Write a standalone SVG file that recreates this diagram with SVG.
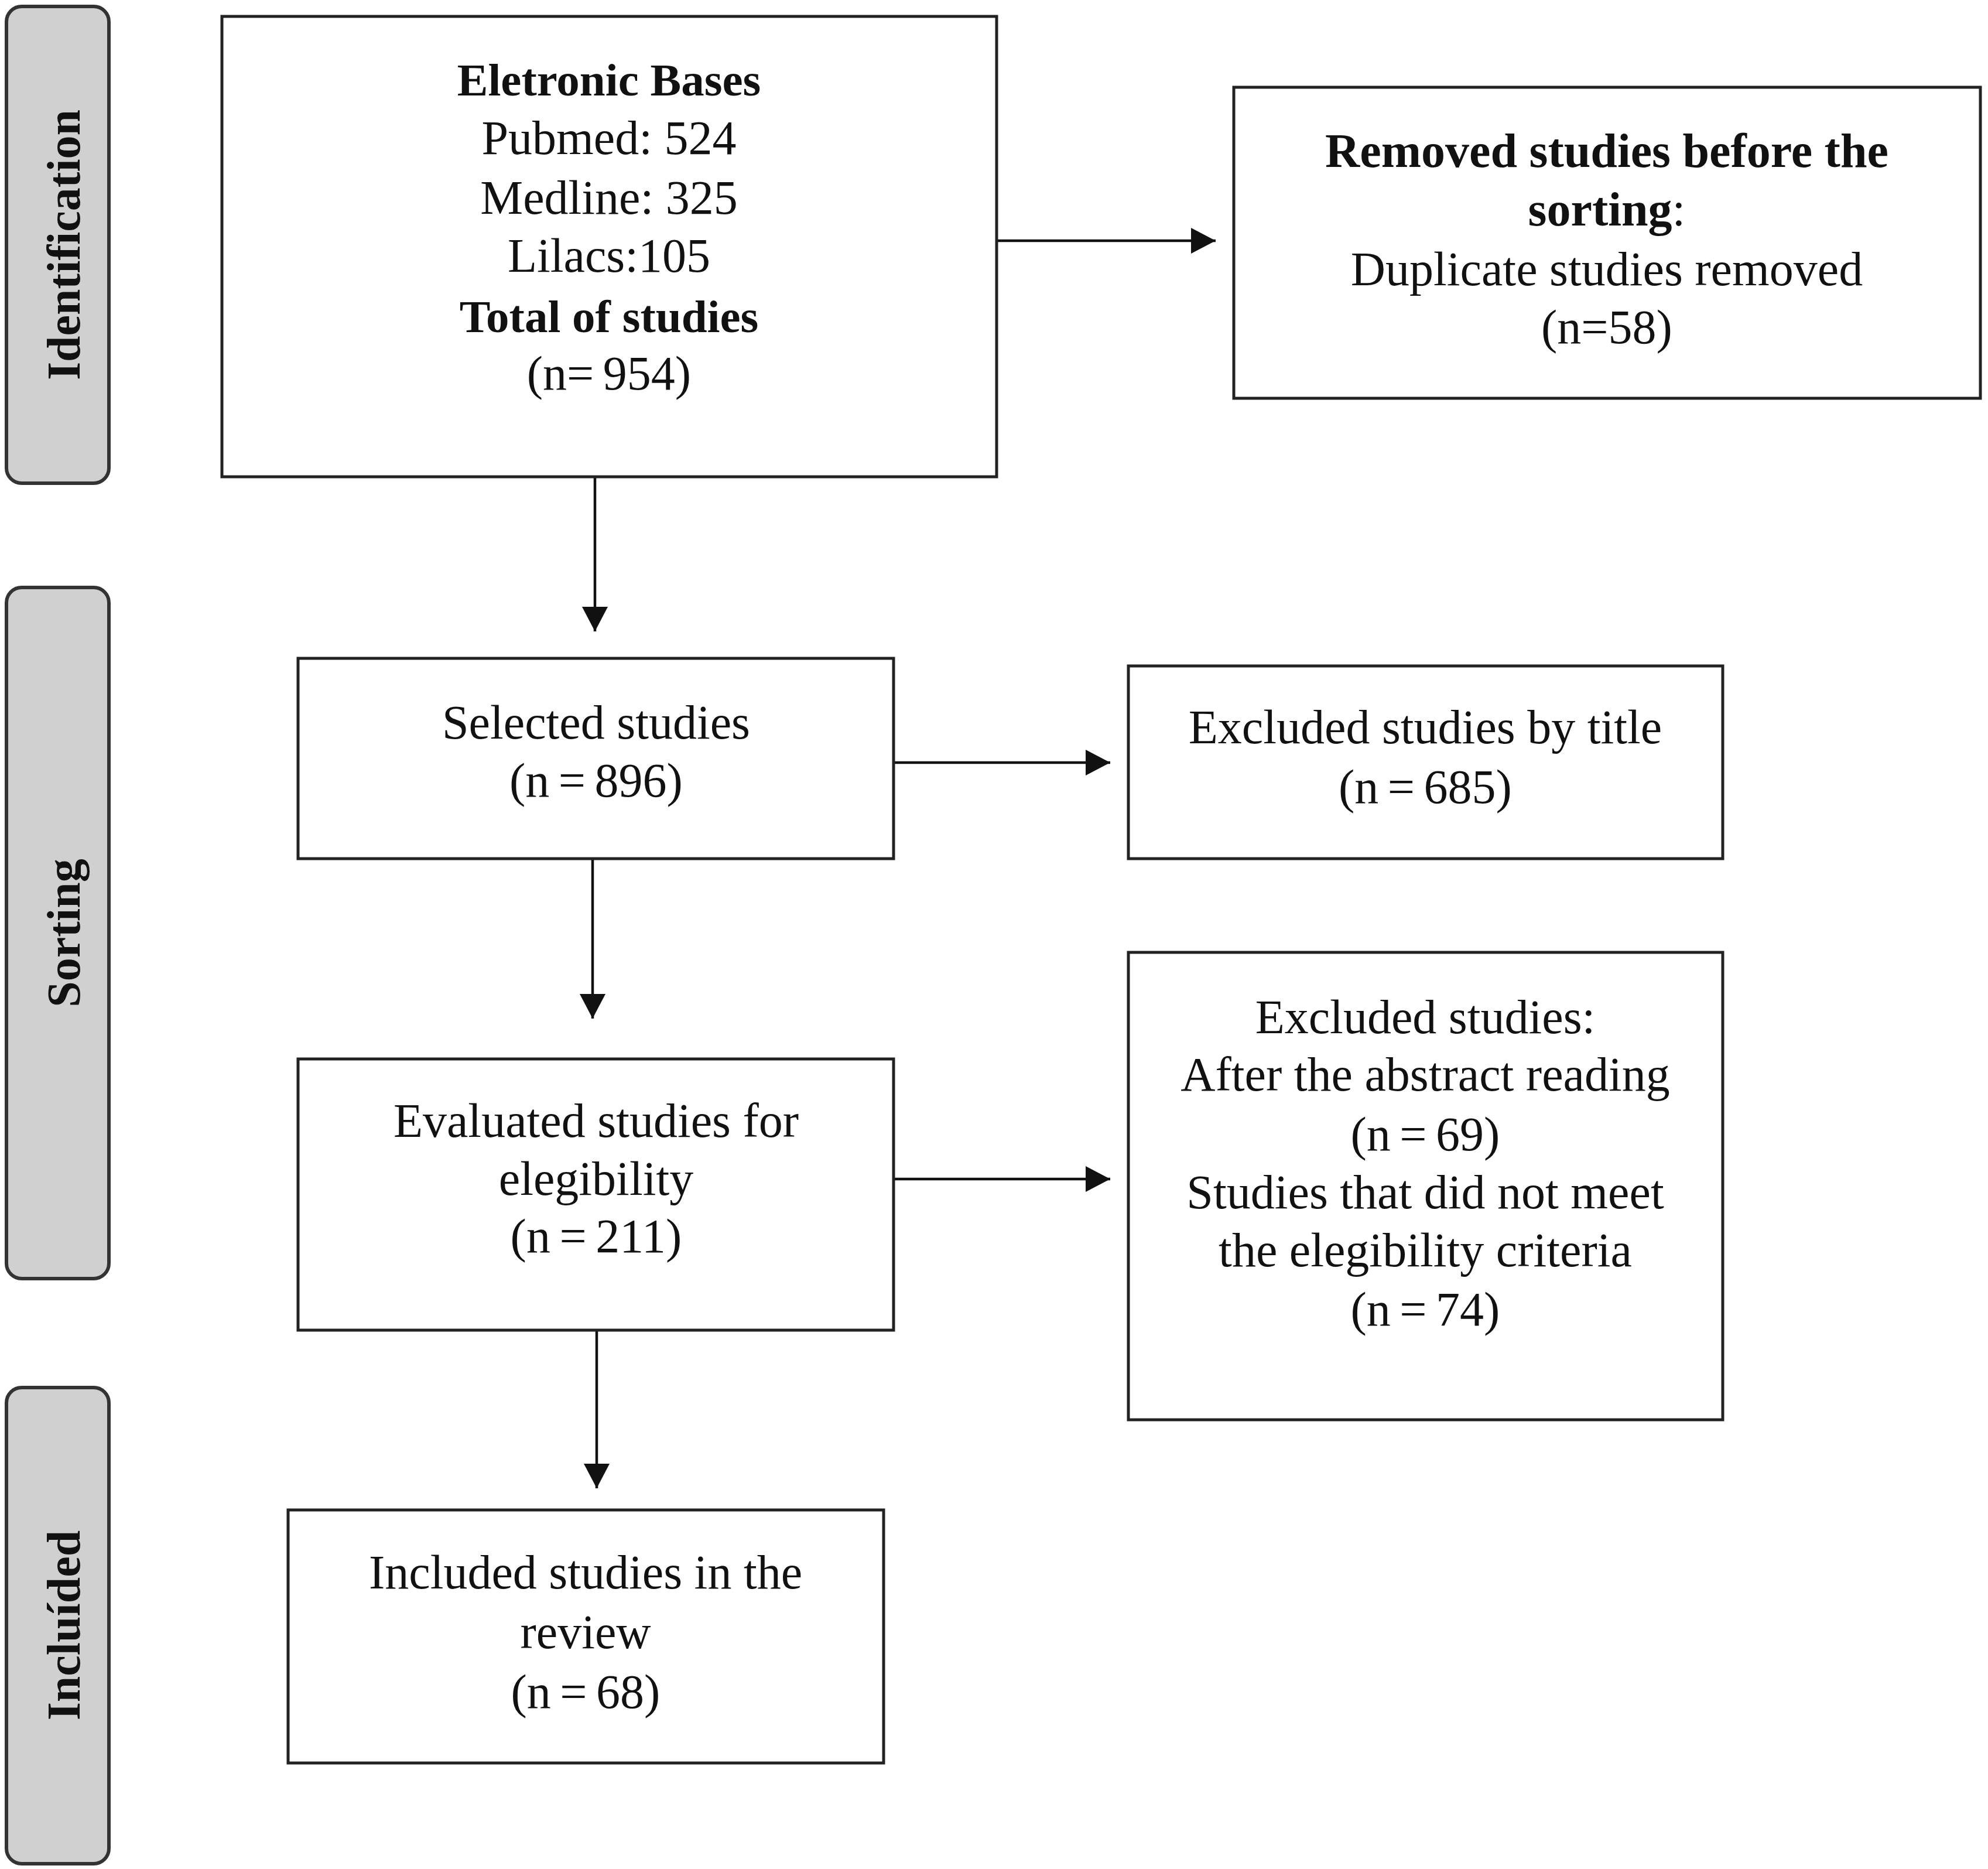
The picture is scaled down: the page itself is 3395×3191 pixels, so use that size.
<svg xmlns="http://www.w3.org/2000/svg" width="3395" height="3191" viewBox="0 0 3395 3191">
<style>
.tab{fill:#d0d0d0;stroke:#333;stroke-width:6}
.box{fill:#fff;stroke:#222;stroke-width:5}
.t{font-family:"Liberation Serif","Times New Roman",serif;font-size:82px;fill:#111;text-anchor:middle}
.b{font-weight:bold}
.hb{font-size:79px}
.n{word-spacing:-5px}
.tl{font-family:"Liberation Serif","Times New Roman",serif;font-size:80px;font-weight:bold;fill:#111;text-anchor:middle}
.c{stroke:#111;stroke-width:4.5;fill:none;marker-end:url(#ah)}
</style>
<defs>
<marker id="ah" markerUnits="userSpaceOnUse" markerWidth="44" markerHeight="46" refX="42" refY="22" orient="auto">
<path d="M0,0 L42,22 L0,44 Z" fill="#111"/>
</marker>
</defs>
<rect width="3395" height="3191" fill="#fff"/>
<g id="tab-identification">
<rect class="tab" x="11" y="11" width="175" height="814" rx="26"/>
<text class="tl" transform="translate(136,418) rotate(-90)">Identification</text>
</g>
<g id="tab-sorting">
<rect class="tab" x="11" y="1003" width="175" height="1180" rx="26"/>
<text class="tl" transform="translate(136,1593) rotate(-90)">Sorting</text>
</g>
<g id="tab-included">
<rect class="tab" x="11" y="2369" width="175" height="813" rx="26"/>
<text class="tl" transform="translate(136,2775) rotate(-90)">Incluíded</text>
</g>
<g id="connectors">
<line class="c" x1="1704" y1="411" x2="2076" y2="411"/>
<line class="c" x1="1016" y1="816" x2="1016" y2="1078"/>
<line class="c" x1="1528" y1="1302" x2="1896" y2="1302"/>
<line class="c" x1="1012" y1="1468" x2="1012" y2="1739"/>
<line class="c" x1="1528" y1="2013" x2="1896" y2="2013"/>
<line class="c" x1="1019" y1="2273" x2="1019" y2="2541"/>
</g>
<g id="node-electronic-bases">
<rect class="box" x="379" y="28" width="1323" height="786"/>
<text class="t b hb" x="1040" y="163">Eletronic Bases</text>
<text class="t" x="1040" y="263">Pubmed: 524</text>
<text class="t" x="1040" y="365">Medline: 325</text>
<text class="t" x="1040" y="464">Lilacs:105</text>
<text class="t b hb" x="1040" y="567">Total of studies</text>
<text class="t n" x="1040" y="665">(n= 954)</text>
</g>
<g id="node-removed">
<rect class="box" x="2107" y="149" width="1275" height="531"/>
<text class="t b" x="2744" y="285">Removed studies before the</text>
<text class="t" x="2744" y="385"><tspan class="b">sorting</tspan>:</text>
<text class="t" x="2744" y="487">Duplicate studies removed</text>
<text class="t" x="2744" y="586">(n=58)</text>
</g>
<g id="node-selected">
<rect class="box" x="509" y="1124" width="1017" height="342"/>
<text class="t" x="1018" y="1261">Selected studies</text>
<text class="t n" x="1018" y="1360">(n = 896)</text>
</g>
<g id="node-excluded-title">
<rect class="box" x="1927" y="1137" width="1015" height="329"/>
<text class="t" x="2434" y="1269">Excluded studies by title</text>
<text class="t n" x="2434" y="1371">(n = 685)</text>
</g>
<g id="node-evaluated">
<rect class="box" x="509" y="1808" width="1017" height="463"/>
<text class="t" x="1018" y="1941">Evaluated studies for</text>
<text class="t" x="1018" y="2040">elegibility</text>
<text class="t n" x="1018" y="2138">(n = 211)</text>
</g>
<g id="node-excluded-studies">
<rect class="box" x="1927" y="1626" width="1015" height="798"/>
<text class="t" x="2434" y="1764">Excluded studies:</text>
<text class="t" x="2434" y="1862">After the abstract reading</text>
<text class="t n" x="2434" y="1964">(n = 69)</text>
<text class="t" x="2434" y="2063">Studies that did not meet</text>
<text class="t" x="2434" y="2162">the elegibility criteria</text>
<text class="t n" x="2434" y="2263">(n = 74)</text>
</g>
<g id="node-included">
<rect class="box" x="492" y="2578" width="1017" height="432"/>
<text class="t" x="1000" y="2712">Included studies in the</text>
<text class="t" x="1000" y="2814">review</text>
<text class="t n" x="1000" y="2916">(n = 68)</text>
</g>
</svg>
